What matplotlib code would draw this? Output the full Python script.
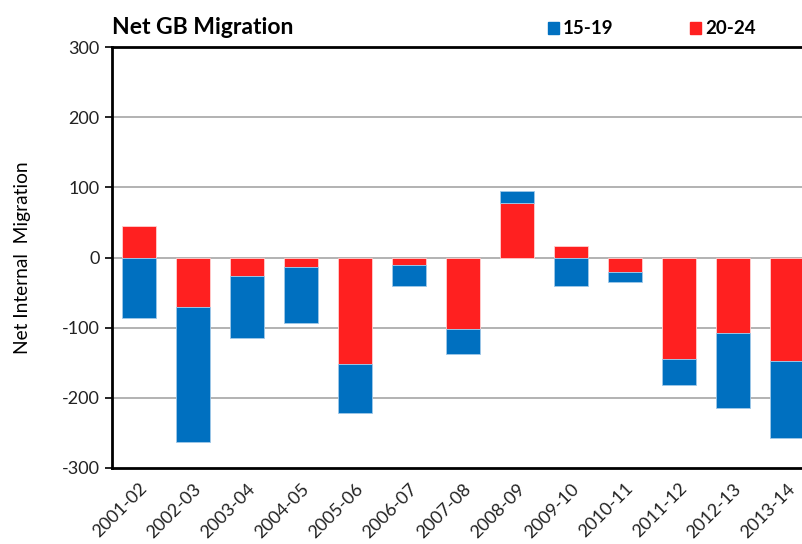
import matplotlib
matplotlib.use("Agg")
import matplotlib.pyplot as plt
import numpy as np

categories = ["2001-02", "2002-03", "2003-04", "2004-05", "2005-06", "2006-07", "2007-08",
              "2008-09", "2009-10", "2010-11", "2011-12", "2012-13", "2013-14"]
age_15_19 = [-86, -192, -88, -81, -69, -30, -35, 17, -41, -15, -37, -106, -110]
age_20_24 = [45, -71, -27, -13, -152, -11, -102, 78, 17, -20, -144, -108, -147]
yticks = [-300, -200, -100, 0, 100, 200, 300]

BLUE = "#0070C0"
RED = "#FF2020"
FONT = "Lato"

fig = plt.figure(figsize=(8.02, 5.44), dpi=100)
ax = fig.add_axes([112/802, 1-468/544, 702/802, (468-47)/544])

x = np.arange(len(categories))
red = np.array(age_20_24, dtype=float)
blue = np.array(age_15_19, dtype=float)
blue_bottom = np.where(np.sign(blue) == np.sign(red), red, 0.0)

ax.bar(x, red, width=0.63, color=RED, edgecolor="#ffd0d0", linewidth=0.6, zorder=3)
ax.bar(x, blue, bottom=blue_bottom, width=0.63, color=BLUE, edgecolor="#a0c8e8", linewidth=0.6, zorder=3)

ax.set_xlim(-0.5, len(categories) - 0.5)
ax.set_ylim(-300, 300)
ax.set_yticks(yticks)
ax.set_yticklabels([str(v) for v in yticks], fontsize=13, fontfamily=FONT, color="#222222")
ax.set_xticks(x)
ax.set_xticklabels(categories, rotation=45, ha="right", rotation_mode="anchor",
                   fontsize=13, fontfamily=FONT, color="#222222")
ax.tick_params(axis="x", length=0, pad=9)
ax.tick_params(axis="y", length=5, width=1.2, color="black", pad=4)

for v in [-200, -100, 0, 100, 200]:
    ax.axhline(v, color="#a6a6a6", linewidth=1.2, zorder=1)

for s in ["left", "top", "bottom"]:
    ax.spines[s].set_linewidth(2)
    ax.spines[s].set_color("black")
ax.spines["right"].set_visible(False)

ax.set_ylabel("Net Internal  Migration", fontsize=13.8, fontfamily=FONT)
ax.yaxis.set_label_coords((31 - 112) / 702, 0.5)

fig.text(112/802, 1-28/544, "Net GB Migration", fontsize=16.5, fontweight="bold",
         fontfamily=FONT, va="center", ha="left")

# legend
fig.patches.append(plt.Rectangle((548/802, 1-34/544), 11/802, 12/544, transform=fig.transFigure,
                                 color=BLUE, figure=fig))
fig.text(563/802, 1-28/544, "15-19", fontsize=13.5, fontweight="bold", fontfamily=FONT,
         va="center", ha="left")
fig.patches.append(plt.Rectangle((690/802, 1-34/544), 11/802, 12/544, transform=fig.transFigure,
                                 color=RED, figure=fig))
fig.text(705/802, 1-28/544, "20-24", fontsize=13.5, fontweight="bold", fontfamily=FONT,
         va="center", ha="left")

fig.savefig("out.png", dpi=100)
